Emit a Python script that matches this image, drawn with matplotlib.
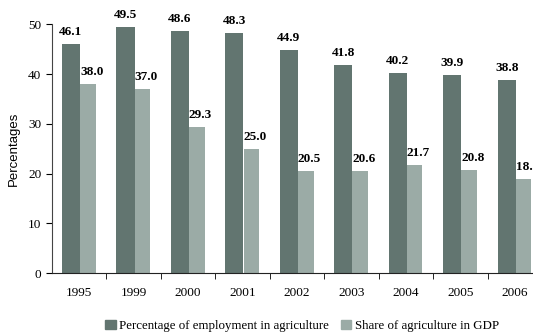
import numpy as np
import matplotlib
matplotlib.use("Agg")
import matplotlib.pyplot as plt
from matplotlib.patches import Patch

years = ["1995", "1999", "2000", "2001", "2002", "2003", "2004", "2005", "2006"]
employment = [46.1, 49.5, 48.6, 48.3, 44.9, 41.8, 40.2, 39.9, 38.8]
gdp_share = [38.0, 37.0, 29.3, 25.0, 20.5, 20.6, 21.7, 20.8, 18.9]

dark = "#627570"
light = "#9baba6"
serif = "Liberation Serif"

fig = plt.figure(figsize=(5.33, 3.32), dpi=100)
ax = fig.add_axes([0.097, 0.177, 0.920, 0.75])

x = np.arange(len(years))
b1 = ax.bar(x - 0.148, employment, 0.336, color=dark)
b2 = ax.bar(x + 0.163, gdp_share, 0.285, color=light)

# value labels above each bar
for rect, v in zip(b1, employment):
    ax.text(rect.get_x() + rect.get_width() / 2, v + 1.8, f"{v:.1f}",
            ha="center", va="baseline", fontsize=9.5, fontweight="bold",
            family=serif)
for rect, v in zip(b2, gdp_share):
    ax.text(rect.get_x() + rect.get_width() / 2 + 0.07, v + 1.8, f"{v:.1f}",
            ha="center", va="baseline", fontsize=9.5, fontweight="bold",
            family=serif)

ax.set_xlim(-0.5, len(years) - 0.5)
ax.set_ylim(0, 50)
ax.set_yticks([0, 10, 20, 30, 40, 50])
ax.set_xticks(x)
ax.set_xticklabels(years)
ax.set_xticks(np.arange(len(years)) + 0.5, minor=True)
ax.tick_params(axis="x", which="major", length=0, pad=10)
ax.tick_params(axis="x", which="minor", length=4, direction="out")
ax.tick_params(axis="y", length=4, direction="out")
for lbl in ax.get_xticklabels() + ax.get_yticklabels():
    lbl.set_family(serif)
    lbl.set_fontsize(9.5)

ax.set_ylabel("Percentages", family="Liberation Sans", fontsize=9.5, labelpad=6)

ax.spines["top"].set_visible(False)
ax.spines["right"].set_visible(False)
ax.spines["left"].set_color("#444444")
ax.spines["bottom"].set_color("#222222")

handles = [Patch(color=dark, label="Percentage of employment in agriculture"),
           Patch(color=light, label="Share of agriculture in GDP")]
fig.legend(handles=handles, loc="lower center", bbox_to_anchor=(0.567, -0.035),
           ncol=2, frameon=False, prop={"family": serif, "size": 9.3},
           handlelength=0.8, handleheight=0.8, handletextpad=0.3,
           columnspacing=0.9)

fig.savefig("out.png", dpi=100)
